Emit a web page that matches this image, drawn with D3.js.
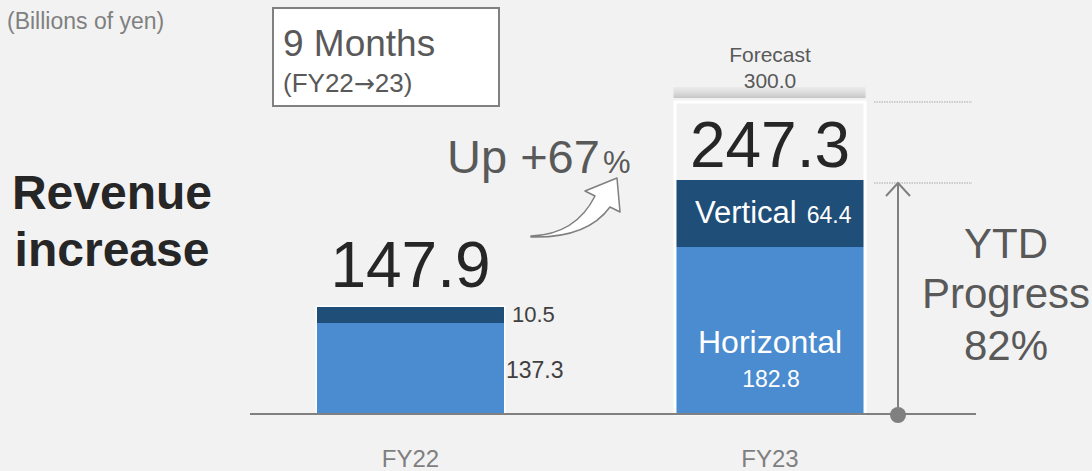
<!DOCTYPE html>
<html>
<head>
<meta charset="utf-8">
<script src="https://cdn.jsdelivr.net/npm/d3@7"></script>
<style>
  body { margin: 0; background: #f2f2f2; }
  svg { display: block; font-family: Arial, "Liberation Sans", sans-serif; }
</style>
</head>
<body>
<svg width="1092" height="471"></svg>
<script>
var categories = ['FY22', 'FY23']
var horizontal = [137.3, 182.8]
var vertical = [10.5, 64.4]
var totals = [147.9, 247.3]
var forecast = 300.0
var growthPct = 67
var progressPct = 82

var svg = d3.select('svg')
var W = 1092, H = 471
var base = 414

svg.append('rect').attr('width', W).attr('height', H).attr('fill', '#f2f2f2')

// the slide is not drawn to scale, so the scale is piecewise
var y = d3.scaleLinear()
  .domain([0, horizontal[0], totals[0], horizontal[1], totals[1], forecast])
  .range([base, 323, 307, 247, 180, 102])

var x = d3.scalePoint()
  .domain(categories)
  .range([410.5, 770])

var barW = 187
var cDark = '#1f4e79'
var cLight = '#4a8ccf'

var defs = svg.append('defs')
var grad = defs.append('linearGradient').attr('id', 'fc').attr('x1', 0).attr('x2', 0).attr('y1', 0).attr('y2', 1)
grad.append('stop').attr('offset', '0%').attr('stop-color', '#ebebeb')
grad.append('stop').attr('offset', '50%').attr('stop-color', '#dcdcdc')
grad.append('stop').attr('offset', '100%').attr('stop-color', '#c6c6c6')

// forecast frame on FY23
var xf = x('FY23') - barW / 2
svg.append('rect')
  .attr('x', xf - 3).attr('y', y(forecast) - 15)
  .attr('width', barW + 5).attr('height', 11)
  .attr('fill', 'url(#fc)')
svg.append('rect')
  .attr('x', xf - 1.5).attr('y', y(forecast))
  .attr('width', barW + 3).attr('height', base - y(forecast))
  .attr('fill', 'none').attr('stroke', '#fff').attr('stroke-width', 3)

// white outline of FY22 bar
svg.append('rect')
  .attr('x', x('FY22') - barW / 2 - 1.5).attr('y', y(totals[0]) - 1.5)
  .attr('width', barW + 3).attr('height', base - y(totals[0]) + 1.5)
  .attr('fill', '#fff')

var g = svg.selectAll('g.bar')
  .data(categories)
  .enter()
  .append('g')
  .attr('class', 'bar')

g.append('rect')
  .attr('x', function (d) { return x(d) - barW / 2 })
  .attr('y', function (d, i) { return y(horizontal[i]) })
  .attr('width', barW)
  .attr('height', function (d, i) { return base - y(horizontal[i]) })
  .attr('fill', cLight)

g.append('rect')
  .attr('x', function (d) { return x(d) - barW / 2 })
  .attr('y', function (d, i) { return y(totals[i]) })
  .attr('width', barW)
  .attr('height', function (d, i) { return y(horizontal[i]) - y(totals[i]) })
  .attr('fill', cDark)

// baseline
svg.append('line')
  .attr('x1', 250).attr('x2', 976).attr('y1', base).attr('y2', base)
  .attr('stroke', '#808080').attr('stroke-width', 2)

// category labels
svg.selectAll('text.cat')
  .data(categories)
  .enter()
  .append('text')
  .attr('class', 'cat')
  .attr('x', function (d) { return x(d) })
  .attr('y', 467)
  .attr('text-anchor', 'middle')
  .attr('font-size', 24)
  .attr('fill', '#7f7f7f')
  .text(function (d) { return d })

// FY22 labels
var x22 = x('FY22')
svg.append('text').attr('x', x22).attr('y', y(totals[0]) - 20)
  .attr('text-anchor', 'middle').attr('font-size', 64).attr('fill', '#262626')
  .text(totals[0].toFixed(1))
svg.append('text').attr('x', x22 + barW / 2 + 8).attr('y', 322)
  .attr('font-size', 22).attr('fill', '#404040').text(vertical[0].toFixed(1))
svg.append('text').attr('x', x22 + barW / 2 + 2).attr('y', 378)
  .attr('font-size', 23).attr('fill', '#404040').text(horizontal[0].toFixed(1))

// FY23 labels
var x23 = x('FY23')
svg.append('text').attr('x', x23).attr('y', 62)
  .attr('text-anchor', 'middle').attr('font-size', 21).attr('fill', '#595959').text('Forecast')
svg.append('text').attr('x', x23).attr('y', 88)
  .attr('text-anchor', 'middle').attr('font-size', 21).attr('fill', '#595959').text(forecast.toFixed(1))
svg.append('text').attr('x', x23).attr('y', 167)
  .attr('text-anchor', 'middle').attr('font-size', 64).attr('fill', '#262626')
  .text(totals[1].toFixed(1))
var vt = svg.append('text').attr('x', x23 - 75).attr('y', 223).attr('fill', '#fff')
vt.append('tspan').attr('font-size', 31).text('Vertical')
vt.append('tspan').attr('font-size', 23).attr('dx', 10).text(vertical[1].toFixed(1))
svg.append('text').attr('x', x23).attr('y', 353)
  .attr('text-anchor', 'middle').attr('font-size', 32).attr('fill', '#fff').text('Horizontal')
svg.append('text').attr('x', x23 + 1).attr('y', 387)
  .attr('text-anchor', 'middle').attr('font-size', 23).attr('fill', '#fff').text(horizontal[1].toFixed(1))

// units
svg.append('text').attr('x', 7).attr('y', 29)
  .attr('font-size', 23).attr('fill', '#808080').text('(Billions of yen)')

// period box
svg.append('rect').attr('x', 273).attr('y', 8).attr('width', 226).attr('height', 98)
  .attr('fill', '#fff').attr('stroke', '#808080').attr('stroke-width', 2)
svg.append('text').attr('x', 283).attr('y', 56)
  .attr('font-size', 37).attr('fill', '#595959').text('9 Months')
var per = svg.append('text').attr('x', 283).attr('y', 92)
  .attr('font-size', 26).attr('fill', '#595959')
per.append('tspan').text('(FY22')
per.append('tspan').attr('font-family', '"DejaVu Sans"').attr('font-size', 25).text('\u2192')
per.append('tspan').text('23)')

// Revenue increase
svg.append('text').attr('x', 112).attr('y', 209)
  .attr('text-anchor', 'middle').attr('font-size', 48).attr('font-weight', 'bold')
  .attr('fill', '#262626').text('Revenue')
svg.append('text').attr('x', 112).attr('y', 266)
  .attr('text-anchor', 'middle').attr('font-size', 48).attr('font-weight', 'bold')
  .attr('fill', '#262626').text('increase')

// growth label and curved arrow
var up = svg.append('text').attr('x', 447).attr('y', 173).attr('fill', '#595959')
up.append('tspan').attr('font-size', 47).text('Up +' + growthPct)
up.append('tspan').attr('font-size', 31).attr('dx', 3).text('%')

svg.append('path')
  .attr('d', 'M531,236 C560,235 582,222 595,196 L585,191 L617,178 L620,212 L610,207 C594,229 568,238 531,237 Z')
  .attr('fill', '#fff').attr('stroke', '#7f7f7f').attr('stroke-width', 1.5)
  .attr('stroke-linejoin', 'round')

// dotted guides
var gx1 = 874, gx2 = 972
;[y(forecast), y(totals[1]) + 3].forEach(function (gy) {
  svg.append('line').attr('x1', gx1).attr('x2', gx2).attr('y1', gy).attr('y2', gy)
    .attr('stroke', '#a6a6a6').attr('stroke-width', 1.2).attr('stroke-dasharray', '1.5,1')
})

// progress arrow
var ax = 898
var ay = y(totals[1]) + 3
svg.append('line').attr('x1', ax).attr('x2', ax).attr('y1', ay).attr('y2', base)
  .attr('stroke', '#808080').attr('stroke-width', 2)
svg.append('path')
  .attr('d', 'M' + (ax - 12) + ',' + (ay + 13) + ' L' + ax + ',' + ay + ' L' + (ax + 12) + ',' + (ay + 13))
  .attr('fill', 'none').attr('stroke', '#808080').attr('stroke-width', 2)
svg.append('circle').attr('cx', ax).attr('cy', base + 1).attr('r', 8).attr('fill', '#808080')

var pt = svg.append('text').attr('text-anchor', 'middle')
  .attr('font-size', 42).attr('fill', '#595959')
pt.append('tspan').attr('x', 1006).attr('y', 258).text('YTD')
pt.append('tspan').attr('x', 1006).attr('y', 308).text('Progress')
pt.append('tspan').attr('x', 1006).attr('y', 360).text(progressPct + '%')
</script>
</body>
</html>
